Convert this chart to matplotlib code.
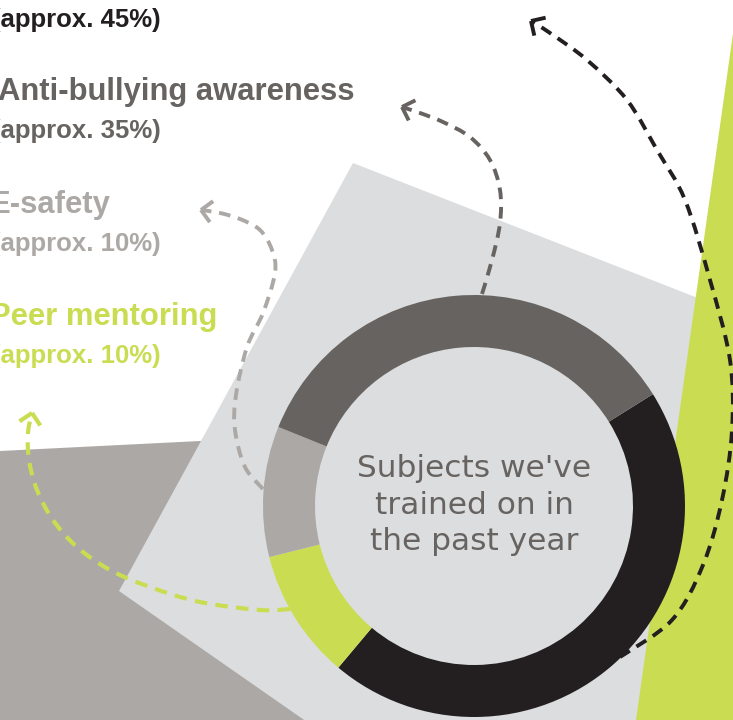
import matplotlib
matplotlib.use("Agg")
import matplotlib.pyplot as plt
import numpy as np
from matplotlib.path import Path
from matplotlib.patches import PathPatch, Polygon

# data
subjects = ["Safeguarding", "Peer mentoring", "E-safety", "Anti-bullying awareness"]
shares = [45, 10, 10, 35]
colors = ["#231f20", "#cadd52", "#aca8a5", "#676361"]

labels = ["Anti-bullying awareness", "E-safety", "Peer mentoring"]
label_pcts = ["(approx. 35%)", "(approx. 10%)", "(approx. 10%)"]
label_cols = ["#676361", "#aca8a5", "#cadd52"]

W, H = 733, 720
fig = plt.figure(figsize=(W / 100, H / 100), dpi=100)
ax = fig.add_axes([0, 0, 1, 1])

# donut (y axis is inverted later, so angles/direction are mirrored)
ax.pie(shares, colors=colors, startangle=-32, counterclock=True,
       radius=211, center=(474, 506),
       wedgeprops=dict(width=52, linewidth=0, zorder=5))

ax.set_xlim(0, W)
ax.set_ylim(H, 0)
ax.axis("off")

# background shapes
ax.add_patch(Polygon([(0, 451), (300, 436), (520, 720), (0, 720)],
                     closed=True, fc="#aca8a5", ec="none", zorder=0))
ax.add_patch(Polygon([(353, 163), (800, 338), (800, 800), (419, 800), (119, 591)],
                     closed=True, fc="#dcdddf", ec="none", zorder=1))
ax.add_patch(Polygon([(733.5, 30), (742, 720), (636, 720)],
                     closed=True, fc="#cadd52", ec="none", zorder=2))


def smooth_path(pts):
    # catmull-rom through the points, as cubic bezier segments
    p = np.asarray(pts, float)
    p = np.vstack([p[0], p, p[-1]])
    verts = [p[1]]
    codes = [Path.MOVETO]
    for i in range(1, len(p) - 2):
        c1 = p[i] + (p[i + 1] - p[i - 1]) / 6
        c2 = p[i + 1] - (p[i + 2] - p[i]) / 6
        verts += [c1, c2, p[i + 1]]
        codes += [Path.CURVE4] * 3
    return Path(verts, codes)


def dashed_arrow(pts, color, lw):
    ax.add_patch(PathPatch(smooth_path(pts), fc="none", ec=color, lw=lw,
                           linestyle=(0, (3.0, 2.0)), capstyle="butt", zorder=4))
    tip = np.array(pts[-1], float)
    d = tip - np.array(pts[-2], float)
    ang = np.arctan2(d[1], d[0])
    arm = 15
    for s in (1, -1):
        a = ang + np.pi + s * np.deg2rad(45)
        ax.plot([tip[0] + arm * np.cos(a), tip[0]],
                [tip[1] + arm * np.sin(a), tip[1]],
                color=color, lw=lw, solid_capstyle="butt", zorder=4)


# black arrow
dashed_arrow([(620, 657), (672, 620), (703, 565), (722, 500), (732, 430), (730, 360),
              (710, 280), (685, 200), (657, 150), (627, 100), (587, 60), (550, 33),
              (531, 21)], "#231f20", 2.8)
# dark gray arrow
dashed_arrow([(482, 294), (492, 260), (500, 223), (500, 190), (490, 160), (470, 137),
              (443, 122), (420, 113), (402, 107)], "#676361", 2.8)
# light gray arrow
dashed_arrow([(263, 489), (245, 467), (235, 430), (236, 395), (247, 347), (263, 313),
              (275, 273), (272, 250), (260, 230), (240, 219), (220, 213), (201, 210)],
             "#aca8a5", 2.8)
# lime arrow
dashed_arrow([(290, 609), (260, 610), (200, 602), (150, 587), (110, 570), (77, 547),
              (53, 520), (37, 490), (29, 460), (28, 433), (32, 413)], "#cadd52", 3.0)

# left labels
bold = dict(family="Liberation Sans", fontweight="bold", va="center", ha="left")
ax.text(-8, 20, "(approx. 45%)", color="#231f20", fontsize=18.5, **bold)
ys = [92, 205, 317]
for lab, pct, col, y in zip(labels, label_pcts, label_cols, ys):
    x0 = -2 if lab.startswith("A") else -10
    ax.text(x0, y, lab, color=col, fontsize=22.3, **bold)
    ax.text(-8, y + 39, pct, color=col, fontsize=18.5, **bold)

ax.text(474, 505, "Subjects we've\ntrained on in\nthe past year",
        ha="center", va="center", fontsize=22.5, color="#676361",
        family="DejaVu Sans", linespacing=1.32, zorder=6)

fig.savefig("out.png", dpi=100)
